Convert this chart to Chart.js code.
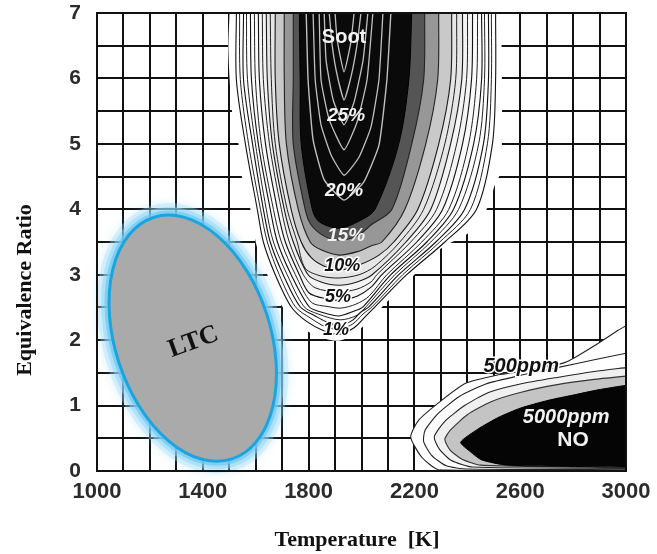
<!DOCTYPE html>
<html>
<head>
<meta charset="utf-8">
<script src="https://cdn.jsdelivr.net/npm/chart.js@4.4.1/dist/chart.umd.min.js"></script>
<style>
  html, body { margin: 0; padding: 0; background: #fff; }
</style>
</head>
<body>
<canvas id="phiT" width="657" height="554"></canvas>
<script>
const xTickLabels = [1000, 1400, 1800, 2200, 2600, 3000];
const yTickLabels = [0, 1, 2, 3, 4, 5, 6, 7];

// soot contours [T, phi], outer edge first, core last
const soot0 = [[1501,7],[1497,6.4],[1512,5.44],[1535,5],[1550,4.45],[1580,4],[1603,3.45],[1644,3],[1701,2.51],[1765,2.22],[1840,2.05],[1915,1.99],[1975,2.1],[2017,2.26],[2066,2.46],[2115,2.66],[2190,2.96],[2243,3.18],[2303,3.41],[2405,3.64],[2473,4],[2507,4.4],[2529,4.6],[2529,7]];
const soot1 = [[1527,7],[1527,5.98],[1561,5],[1606,4],[1629,3.5],[1674,3],[1734,2.51],[1791,2.29],[1859,2.14],[1915,2.09],[1972,2.19],[2017,2.37],[2051,2.51],[2171,3],[2315,3.5],[2435,4],[2495,5],[2507,5.98],[2507,7]];
const soot1b = [[1539,7],[1542,5.98],[1573,5],[1618,4],[1644,3.5],[1689,3],[1750,2.51],[1806,2.34],[1866,2.2],[1919,2.17],[1968,2.25],[2006,2.4],[2040,2.51],[2156,3],[2296,3.5],[2412,4],[2476,5],[2491,5.98],[2491,7]];
const soot2 = [[1554,7],[1554,5.98],[1588,5],[1629,4],[1655,3.5],[1704,3],[1768,2.51],[1825,2.37],[1878,2.26],[1923,2.23],[1968,2.31],[1998,2.43],[2028,2.51],[2141,3],[2281,3.5],[2390,4],[2461,5],[2480,5.98],[2480,7]];
const soot2b = [[1565,7],[1569,5.98],[1599,5],[1640,4],[1667,3.5],[1719,3],[1783,2.51],[1836,2.4],[1919,2.31],[1983,2.38],[2017,2.51],[2126,3],[2262,3.5],[2367,4],[2443,5],[2465,5.98],[2465,7]];
const soot3 = [[1580,7],[1584,5.98],[1610,5],[1655,4],[1682,3.5],[1734,3],[1802,2.51],[1847,2.43],[1915,2.37],[1976,2.45],[2006,2.51],[2111,3],[2247,3.5],[2348,4],[2424,5],[2454,5.98],[2454,7]];
const soot3b = [[1595,7],[1599,5.98],[1621,5],[1667,4],[1697,3.5],[1750,3],[1810,2.58],[1878,2.51],[1923,2.49],[1979,2.55],[2028,2.67],[2096,3],[2228,3.5],[2330,4],[2405,5],[2435,5.98],[2439,7]];
const soot4 = [[1610,7],[1614,5.98],[1637,5],[1682,4],[1712,3.5],[1765,3],[1802,2.72],[1870,2.63],[1923,2.61],[1983,2.67],[2036,2.81],[2077,3],[2209,3.5],[2307,4],[2382,5],[2416,5.98],[2420,7]];
const soot4b = [[1625,7],[1629,5.98],[1652,5],[1697,4],[1727,3.5],[1780,3],[1825,2.8],[1915,2.74],[1983,2.78],[2036,2.89],[2058,3],[2186,3.5],[2284,4],[2360,5],[2397,5.98],[2401,7]];
const soot5 = [[1640,7],[1644,5.98],[1663,5],[1708,4],[1742,3.5],[1798,3],[1847,2.89],[1915,2.84],[1983,2.89],[2040,3],[2168,3.5],[2262,4],[2337,5],[2379,5.98],[2382,7]];
const soot5b = [[1655,7],[1659,5.98],[1674,5],[1719,4],[1757,3.5],[1787,3.1],[1847,2.98],[1915,2.95],[1991,3],[2051,3.13],[2145,3.5],[2235,4],[2315,5],[2356,5.98],[2360,7]];
const soot6 = [[1674,7],[1674,5.98],[1689,5],[1734,4],[1772,3.5],[1810,3.26],[1859,3.13],[1915,3.07],[1991,3.15],[2066,3.3],[2122,3.5],[2213,4],[2292,5],[2337,5.98],[2341,7]];
const soot7 = [[1708,7],[1708,5.98],[1716,5],[1761,4],[1806,3.5],[1847,3.38],[1915,3.3],[1991,3.36],[2036,3.44],[2077,3.5],[2164,4],[2243,5],[2288,5.98],[2292,7]];
const soot8 = [[1742,7],[1742,5.98],[1742,5],[1787,4],[1810,3.76],[1859,3.59],[1915,3.53],[1983,3.59],[2036,3.76],[2115,4],[2190,5],[2235,5.98],[2239,7]];
const sootCore = [[1765,7],[1768,5.98],[1772,5],[1814,4],[1840,3.81],[1915,3.71],[1991,3.82],[2051,4],[2141,5],[2179,5.98],[2190,7]];

// white chevrons inside the soot core
const sootV1 = [[1791,7],[1798,5.98],[1817,5.06],[1859,4.45],[1934,4.14],[2009,4.42],[2066,4.98],[2096,5.98],[2111,7]];
const sootV2 = [[1817,7],[1825,5.98],[1847,5.29],[1885,4.83],[1934,4.52],[1991,4.8],[2036,5.26],[2066,5.98],[2081,7]];
const sootV3 = [[1840,7],[1847,5.98],[1878,5.37],[1934,4.91],[1983,5.33],[2021,5.98],[2043,7]];
const sootV4 = [[1859,7],[1866,6.28],[1893,5.67],[1934,5.29],[1972,5.64],[2006,6.28],[2024,7]];
const sootV5 = [[1878,7],[1889,6.51],[1908,6.05],[1934,5.67],[1960,6.02],[1983,6.51],[1998,7]];
const sootV6 = [[1900,7],[1908,6.59],[1934,6.1],[1960,6.56],[1972,7]];

// NO contours [T, phi], outer edge first, core last
const no0 = [[3000,2.22],[2970,2.15],[2894,1.95],[2770,1.66],[2600,1.52],[2518,1.47],[2394,1.34],[2303,1.08],[2217,0.78],[2186,0.52],[2228,0.21],[2292,0.02],[3000,0]];
const no1 = [[3000,1.8],[2880,1.7],[2740,1.58],[2600,1.46],[2470,1.33],[2370,1.14],[2290,0.88],[2240,0.62],[2235,0.45],[2265,0.24],[2320,0.08],[2400,0.03],[3000,0.02]];
const no2 = [[3000,1.58],[2880,1.52],[2740,1.43],[2600,1.33],[2480,1.2],[2390,1],[2315,0.76],[2275,0.52],[2295,0.33],[2340,0.16],[2420,0.06],[3000,0.04]];
const no3 = [[3000,1.45],[2880,1.4],[2740,1.32],[2600,1.2],[2490,1.06],[2400,0.86],[2335,0.62],[2315,0.48],[2335,0.32],[2380,0.18],[2450,0.09],[3000,0.05]];
const noCore = [[3000,1.31],[2894,1.24],[2800,1.16],[2706,1.08],[2600,0.96],[2518,0.82],[2440,0.64],[2375,0.44],[2410,0.3],[2454,0.17],[2550,0.09],[3000,0.06]];

// text labels [T, phi]
const sootLabels = ['Soot', '25%', '20%', '15%', '10%', '5%', '1%'];
const sootLabelT = [1934, 1942, 1934, 1942, 1927, 1911, 1904];
const sootLabelPhi = [6.62, 5.43, 4.29, 3.59, 3.13, 2.66, 2.15];
const noLabels = ['500ppm', '5000ppm', 'NO'];
const noLabelT = [2604, 2774, 2800];
const noLabelPhi = [1.60, 0.82, 0.47];

// LTC region
const ltcCenter = [1362, 2.03];
const ltcSemiAxes = [294, 1.94];   // [K, phi] before tilt
const ltcTiltDeg = -18;

const pts = a => a.map(p => ({x: p[0], y: p[1]}));
let seq = 0;
function band(arr, fillColor, lineColor, lineWidth, tension) {
  seq++;
  return {
    data: pts(arr), showLine: true, fill: 'shape',
    backgroundColor: fillColor, borderColor: lineColor, borderWidth: lineWidth,
    pointRadius: 0, tension: tension, order: -seq
  };
}
function stroke(arr, lineColor, lineWidth, tension) {
  seq++;
  return {
    data: pts(arr), showLine: true, fill: false,
    borderColor: lineColor, borderWidth: lineWidth,
    pointRadius: 0, tension: tension, order: -seq
  };
}

const chevron = 'rgba(225,225,225,0.85)';
const datasets = [
  band(soot0, '#ffffff', 'rgba(0,0,0,0)', 0, 0.3),
  band(soot1, '#ffffff', '#111', 1.1, 0.3),
  stroke(soot1b, '#222', 1, 0.3),
  band(soot2, '#ffffff', '#111', 1.1, 0.3),
  stroke(soot2b, '#222', 1, 0.3),
  band(soot3, '#fbfbfb', '#111', 1.1, 0.3),
  stroke(soot3b, '#222', 1, 0.3),
  band(soot4, '#f4f4f4', '#111', 1.1, 0.3),
  stroke(soot4b, '#222', 1, 0.3),
  band(soot5, '#e6e6e6', '#1a1a1a', 1.1, 0.3),
  stroke(soot5b, '#222', 1, 0.3),
  band(soot6, '#c9c9c9', '#1a1a1a', 1.1, 0.3),
  band(soot7, '#979797', '#222', 1.1, 0.3),
  band(soot8, '#555555', '#222', 1.1, 0.3),
  band(sootCore, '#0a0a0a', '#000', 1, 0.3),
  stroke(sootV1, chevron, 1.4, 0.15),
  stroke(sootV2, chevron, 1.3, 0.15),
  stroke(sootV3, chevron, 1.3, 0.15),
  stroke(sootV4, chevron, 1.3, 0.15),
  stroke(sootV5, chevron, 1.3, 0.15),
  stroke(sootV6, chevron, 1.3, 0.15),
  band(no0, '#ffffff', '#222', 1.1, 0.2),
  band(no1, '#ffffff', '#222', 1.1, 0.2),
  band(no2, '#f0f0f0', '#222', 1.1, 0.2),
  band(no3, '#c4c4c4', '#333', 1.1, 0.2),
  band(noCore, '#050505', '#000', 1, 0.2)
];

function drawLabel(ctx, text, x, y, font, color, halo) {
  ctx.font = font;
  ctx.textAlign = 'center';
  ctx.textBaseline = 'middle';
  if (halo) {
    ctx.lineWidth = 3;
    ctx.strokeStyle = halo;
    ctx.lineJoin = 'round';
    ctx.strokeText(text, x, y);
  }
  ctx.fillStyle = color;
  ctx.fillText(text, x, y);
}

const overlay = {
  id: 'overlay',
  afterDatasetsDraw(chart) {
    const {ctx, chartArea: a} = chart;
    const xs = chart.scales.x, ys = chart.scales.y;
    // LTC ellipse with glow
    const cx = xs.getPixelForValue(ltcCenter[0]);
    const cy = ys.getPixelForValue(ltcCenter[1]);
    const rx = xs.getPixelForValue(ltcCenter[0] + ltcSemiAxes[0]) - cx;
    const ry = cy - ys.getPixelForValue(ltcCenter[1] + ltcSemiAxes[1]);
    ctx.save();
    ctx.beginPath();
    ctx.ellipse(cx, cy, rx, ry, ltcTiltDeg * Math.PI / 180, 0, Math.PI * 2);
    ctx.shadowColor = 'rgba(120,205,245,0.9)';
    ctx.shadowBlur = 10;
    ctx.lineWidth = 24;
    ctx.strokeStyle = 'rgba(160,220,248,0.3)';
    ctx.stroke();
    ctx.shadowBlur = 0;
    ctx.shadowColor = 'rgba(0,0,0,0)';
    ctx.lineWidth = 16;
    ctx.strokeStyle = 'rgba(140,212,247,0.45)';
    ctx.stroke();
    ctx.lineWidth = 9;
    ctx.strokeStyle = 'rgba(110,200,244,0.7)';
    ctx.stroke();
    ctx.fillStyle = '#aaaaaa';
    ctx.fill();
    ctx.lineWidth = 3;
    ctx.strokeStyle = '#1ca4df';
    ctx.stroke();
    ctx.restore();

    // plot frame
    ctx.save();
    ctx.lineWidth = 2;
    ctx.strokeStyle = '#111';
    ctx.strokeRect(a.left, a.top, a.right - a.left, a.bottom - a.top);
    ctx.restore();

    // labels
    ctx.save();
    sootLabels.forEach((t, i) => {
      const px = xs.getPixelForValue(sootLabelT[i]);
      const py = ys.getPixelForValue(sootLabelPhi[i]);
      if (i === 0) drawLabel(ctx, t, px, py, 'bold 20px "Liberation Sans", Arial, sans-serif', '#f2f2f2', null);
      else if (i < 4) drawLabel(ctx, t, px, py, 'italic bold 19px "Liberation Sans", Arial, sans-serif', '#f2f2f2', null);
      else drawLabel(ctx, t, px, py, 'italic bold 18px "Liberation Sans", Arial, sans-serif', '#111', '#fff');
    });
    noLabels.forEach((t, i) => {
      const px = xs.getPixelForValue(noLabelT[i]);
      const py = ys.getPixelForValue(noLabelPhi[i]);
      if (i === 0) drawLabel(ctx, t, px, py, 'italic bold 20px "Liberation Sans", Arial, sans-serif', '#111', '#fff');
      else if (i === 1) drawLabel(ctx, t, px, py, 'italic bold 20px "Liberation Sans", Arial, sans-serif', '#f2f2f2', null);
      else drawLabel(ctx, t, px, py, 'bold 21px "Liberation Sans", Arial, sans-serif', '#f2f2f2', null);
    });
    ctx.translate(xs.getPixelForValue(1365), ys.getPixelForValue(1.97));
    ctx.rotate(-20 * Math.PI / 180);
    drawLabel(ctx, 'LTC', 0, 0, 'bold 26px "Liberation Serif", "Times New Roman", serif', '#111', null);
    ctx.restore();
  },
  afterDraw(chart) {
    const ctx = chart.ctx;
    ctx.save();
    ctx.fillStyle = '#111';
    ctx.font = 'bold 22px "Liberation Serif", "Times New Roman", serif';
    ctx.textAlign = 'center';
    ctx.textBaseline = 'middle';
    ctx.fillText('Temperature  [K]', 357, 540);
    ctx.translate(25, 290);
    ctx.rotate(-Math.PI / 2);
    ctx.fillText('Equivalence Ratio', 0, 0);
    ctx.restore();
  }
};

new Chart(document.getElementById('phiT'), {
  type: 'scatter',
  data: { datasets: datasets },
  options: {
    responsive: false,
    animation: false,
    devicePixelRatio: 1,
    events: [],
    layout: { padding: 0 },
    plugins: { legend: { display: false }, tooltip: { enabled: false } },
    scales: {
      x: {
        type: 'linear', min: 1000, max: 3000,
        afterFit: s => { s.height = 83; s.paddingLeft = 0; s.paddingRight = 31; },
        grid: { color: '#111', lineWidth: 2, drawTicks: false },
        border: { display: false },
        ticks: {
          stepSize: 100, autoSkip: false, maxRotation: 0, padding: 8,
          color: '#2b2b2b',
          font: { family: '"Liberation Sans", Arial, sans-serif', size: 22, weight: 'bold' },
          callback: v => xTickLabels.includes(v) ? String(v) : ''
        }
      },
      y: {
        type: 'linear', min: 0, max: 7,
        afterFit: s => { s.width = 97; s.paddingTop = 13; s.paddingBottom = 0; },
        grid: { color: '#111', lineWidth: 2, drawTicks: false },
        border: { display: false },
        ticks: {
          stepSize: 0.5, autoSkip: false, padding: 16,
          color: '#2b2b2b',
          font: { family: '"Liberation Sans", Arial, sans-serif', size: 21, weight: 'bold' },
          callback: v => yTickLabels.includes(v) ? String(v) : ''
        }
      }
    }
  },
  plugins: [overlay]
});
</script>
</body>
</html>
